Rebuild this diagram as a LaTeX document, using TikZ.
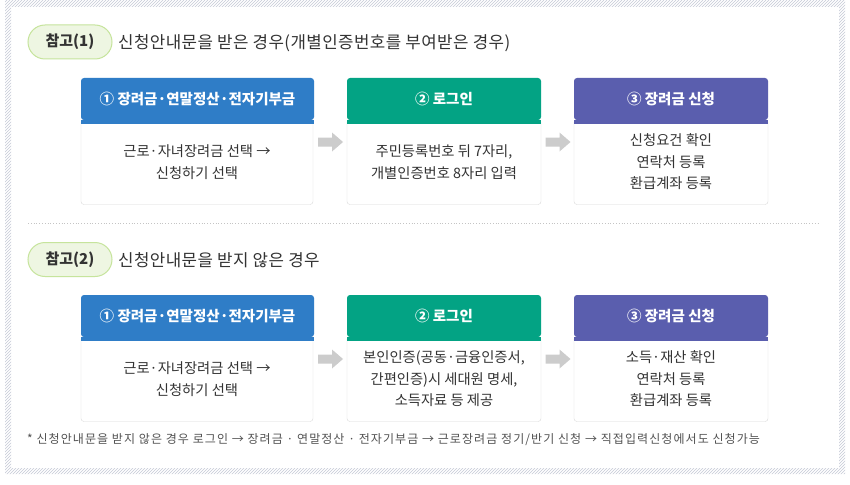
\documentclass[tikz,border=0pt]{standalone}
\usepackage{fontspec}
\setmainfont{Noto Sans CJK KR}
\newfontfamily\fnfont[LetterSpace=9]{Noto Sans CJK KR}
\newfontfamily\ttlfont[LetterSpace=2.5]{Noto Sans CJK KR}
\usetikzlibrary{patterns}
\definecolor{hdrblue}{HTML}{2F7DC7}
\definecolor{hdrgreen}{HTML}{03A384}
\definecolor{hdrpurple}{HTML}{5A5EAE}
\definecolor{txt}{HTML}{333333}
\definecolor{boxline}{HTML}{DADADA}
\definecolor{pillfill}{HTML}{EEF6E2}
\definecolor{pillline}{HTML}{C6E49C}
\definecolor{hatch}{HTML}{C5CAD6}
\definecolor{arrowgray}{HTML}{CCCCCC}
\tikzset{
  hdr/.style={minimum height=42pt, text=white, font=\fontsize{14.5pt}{17pt}\bfseries\selectfont, inner sep=0pt, rounded corners=3pt},
  bodybox/.style={draw=boxline, fill=white, rounded corners=3pt, minimum height=85pt, text=txt, align=center, font=\fontsize{14.3pt}{21.5pt}\selectfont, inner sep=0pt},
  pill/.style={draw=pillline, fill=pillfill, line width=1pt, rounded corners=17pt, minimum width=84pt, minimum height=34pt, text=txt, font=\fontsize{15pt}{18pt}\bfseries\selectfont, inner sep=0pt},
  ttl/.style={anchor=west, text=txt, font=\fontsize{16.8pt}{20pt}\ttlfont, inner sep=0pt},
}
\newcommand{\blockarrow}[1]{%
  \fill[arrowgray] ([shift={(-12.5,-4.5)}]#1) -- ([shift={(1.5,-4.5)}]#1) -- ([shift={(1.5,-9.5)}]#1)
   -- ([shift={(12.5,0)}]#1) -- ([shift={(1.5,9.5)}]#1) -- ([shift={(1.5,4.5)}]#1)
   -- ([shift={(-12.5,4.5)}]#1) -- cycle;}
\begin{document}
\begin{tikzpicture}[x=1pt,y=-1pt]
\useasboundingbox (0,0) rectangle (850,484);
\fill[white] (0,0) rectangle (850,484);
% hatched frame
\fill[pattern=north east lines, pattern color=hatch, even odd rule] (5,0) rectangle (845,474) (11,7) rectangle (839,468);
% section 1
\node[pill] (p1) at (70,42) {참고(1)};
\node[ttl] (t1) at (118,43) {신청안내문을 받은 경우(개별인증번호를 부여받은 경우)};
\node[bodybox, minimum width=232pt] (b1a) at (197,162) {근로·자녀장려금 선택 →\\신청하기 선택};
\node[bodybox, minimum width=194pt] (b1b) at (444,162) {주민등록번호 뒤 7자리,\\개별인증번호 8자리 입력};
\node[bodybox, minimum width=194pt] (b1c) at (671,162) {신청요건 확인\\연락처 등록\\환급계좌 등록};
\node[hdr, minimum width=233pt, fill=hdrblue] (h1a) at (197.5,99) {① 장려금·연말정산·전자기부금};
\node[hdr, minimum width=194pt, fill=hdrgreen] (h1b) at (444,99) {② 로그인};
\node[hdr, minimum width=194pt, fill=hdrpurple] (h1c) at (671,99) {③ 장려금 신청};
\fill[hdrblue] (h1a.south west) rectangle ([yshift=-4pt]h1a.south east);
\fill[hdrgreen] (h1b.south west) rectangle ([yshift=-4pt]h1b.south east);
\fill[hdrpurple] (h1c.south west) rectangle ([yshift=-4pt]h1c.south east);
\coordinate (f1a) at (330.5,142);
\coordinate (f1b) at (558,142);
\blockarrow{f1a}
\blockarrow{f1b}
% separator
\coordinate (s1) at (28,223);
\coordinate (s2) at (820,223);
\draw[boxline!90!black, dotted, line width=0.8pt] (s1) -- (s2);
% section 2
\node[pill] (p2) at (70,259.5) {참고(2)};
\node[ttl] (t2) at (118,260) {신청안내문을 받지 않은 경우};
\node[bodybox, minimum width=232pt] (b2a) at (197,379) {근로·자녀장려금 선택 →\\신청하기 선택};
\node[bodybox, minimum width=194pt] (b2b) at (444,379) {본인인증(공동·금융인증서,\\간편인증)시 세대원 명세,\\소득자료 등 제공};
\node[bodybox, minimum width=194pt] (b2c) at (671,379) {소득·재산 확인\\연락처 등록\\환급계좌 등록};
\node[hdr, minimum width=233pt, fill=hdrblue] (h2a) at (197.5,316) {① 장려금·연말정산·전자기부금};
\node[hdr, minimum width=194pt, fill=hdrgreen] (h2b) at (444,316) {② 로그인};
\node[hdr, minimum width=194pt, fill=hdrpurple] (h2c) at (671,316) {③ 장려금 신청};
\fill[hdrblue] (h2a.south west) rectangle ([yshift=-4pt]h2a.south east);
\fill[hdrgreen] (h2b.south west) rectangle ([yshift=-4pt]h2b.south east);
\fill[hdrpurple] (h2c.south west) rectangle ([yshift=-4pt]h2c.south east);
\coordinate (f2a) at (330.5,359);
\coordinate (f2b) at (558,359);
\blockarrow{f2a}
\blockarrow{f2b}
% footnote
\node[anchor=west, text=txt!85, font=\fontsize{12pt}{14pt}\fnfont, inner sep=0pt] (fn) at (27,440) {* 신청안내문을 받지 않은 경우 로그인 → 장려금 · 연말정산 · 전자기부금 → 근로장려금 정기/반기 신청 → 직접입력신청에서도 신청가능};
\end{tikzpicture}
\end{document}
